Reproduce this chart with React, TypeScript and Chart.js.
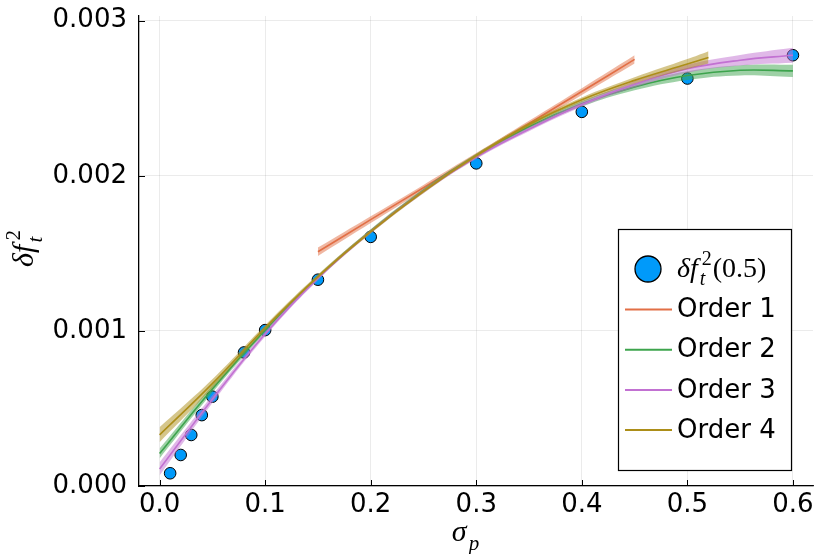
import { useEffect, useRef } from 'react'
import { Chart, registerables } from 'chart.js'

Chart.register(...registerables)

// measured points
const pointX = [0.01, 0.02, 0.03, 0.04, 0.05, 0.08, 0.1, 0.15, 0.2, 0.3, 0.4, 0.5, 0.6]
const pointY = [0.000082, 0.0002, 0.000329, 0.000457, 0.000576, 0.000861, 0.001005, 0.00133, 0.001606, 0.00208, 0.002412, 0.002627, 0.002777]

// fitted curves (centre value and half-width of ribbon)
const fitX = [0, 0.05, 0.1, 0.15, 0.2, 0.25, 0.3, 0.35, 0.4, 0.45, 0.5, 0.55, 0.6]

const order1X = [0.15, 0.2, 0.25, 0.3, 0.35, 0.4, 0.45]
const order1Y = [0.00151, 0.001717, 0.001923, 0.00213, 0.002337, 0.002543, 0.00275]
const order1Err = [0.000027, 0.000022, 0.000018, 0.000016, 0.000018, 0.000022, 0.000027]

const order2Y = [0.000209, 0.000626, 0.001005, 0.001346, 0.001645, 0.001906, 0.00213, 0.002316, 0.002464, 0.002573, 0.002646, 0.00268, 0.002676]
const order2Err = [0.000032, 0.000024, 0.000017, 0.000013, 0.000011, 0.000011, 0.000012, 0.000013, 0.000018, 0.000022, 0.000028, 0.000033, 0.00004]

const order3Y = [0.00011, 0.00056, 0.00098, 0.00134, 0.00164, 0.0019, 0.00212, 0.0023, 0.00246, 0.00259, 0.00269, 0.002745, 0.002777]
const order3Err = [0.000042, 0.000025, 0.000016, 0.000013, 0.000012, 0.000012, 0.000012, 0.000013, 0.000015, 0.00002, 0.000026, 0.000034, 0.000048]

const order4X = [0, 0.05, 0.1, 0.15, 0.2, 0.25, 0.3, 0.35, 0.4, 0.45, 0.5, 0.52]
const order4Y = [0.00033, 0.00066, 0.00102, 0.00135, 0.00164, 0.0019, 0.00213, 0.00233, 0.00249, 0.002615, 0.00272, 0.002763]
const order4Err = [0.000048, 0.000028, 0.000016, 0.000013, 0.000012, 0.000012, 0.000012, 0.000013, 0.000015, 0.00002, 0.000032, 0.00004]

const xTicks = [0, 0.1, 0.2, 0.3, 0.4, 0.5, 0.6]
const yTicks = [0, 0.001, 0.002, 0.003]
const legendLabels = ['Order 1', 'Order 2', 'Order 3', 'Order 4']

const lineColors = ['#E26F46', '#3DA44D', '#C271D2', '#AC8E18']
const bandColors = ['rgba(226,111,70,0.5)', 'rgba(61,164,77,0.5)', 'rgba(194,113,210,0.5)', 'rgba(172,142,24,0.5)']
const pointColor = '#009AFA'

const SANS = '"DejaVu Sans", sans-serif'
const SERIF = '"Liberation Serif", "DejaVu Serif", serif'

// draws  main_sub^sup tail  starting at (x, y) baseline; returns width
function mathText(ctx: CanvasRenderingContext2D, x: number, y: number, main: string, sub: string, sup: string, tail: string, size: number, draw = true) {
  const small = Math.round(size * 0.7)
  ctx.textAlign = 'left'
  ctx.textBaseline = 'alphabetic'
  ctx.font = `italic ${size}px ${SERIF}`
  const wMain = ctx.measureText(main).width
  if (draw) ctx.fillText(main, x, y)
  let w = wMain + 2
  let wScript = 0
  if (sup) {
    ctx.font = `${small}px ${SERIF}`
    if (draw) ctx.fillText(sup, x + w + 2, y - size * 0.44)
    wScript = Math.max(wScript, ctx.measureText(sup).width + 2)
  }
  if (sub) {
    ctx.font = `italic ${small}px ${SERIF}`
    if (draw) ctx.fillText(sub, x + w, y + size * 0.3)
    wScript = Math.max(wScript, ctx.measureText(sub).width)
  }
  w += wScript + 1
  if (tail) {
    ctx.font = `${size}px ${SERIF}`
    if (draw) ctx.fillText(tail, x + w, y)
    w += ctx.measureText(tail).width
  }
  return w
}

const decorPlugin = {
  id: 'decor',
  afterDatasetsDraw(chart: any) {
    const ctx = chart.ctx as CanvasRenderingContext2D
    const area = chart.chartArea
    const xs = chart.scales.x
    const ys = chart.scales.y
    ctx.save()
    // inward ticks
    ctx.strokeStyle = '#000'
    ctx.lineWidth = 1
    ctx.beginPath()
    xTicks.forEach(v => {
      const px = Math.round(xs.getPixelForValue(v)) + 0.5
      ctx.moveTo(px, area.bottom)
      ctx.lineTo(px, area.bottom - 6)
    })
    yTicks.forEach(v => {
      const py = Math.round(ys.getPixelForValue(v)) + 0.5
      ctx.moveTo(area.left, py)
      ctx.lineTo(area.left + 6, py)
    })
    ctx.stroke()

    // legend
    const bx = 618.5, by = 229.5, bw = 173, bh = 241
    ctx.fillStyle = '#fff'
    ctx.fillRect(bx, by, bw, bh)
    ctx.strokeStyle = '#000'
    ctx.lineWidth = 1.2
    ctx.strokeRect(bx, by, bw, bh)

    ctx.beginPath()
    ctx.arc(648, 269, 13, 0, Math.PI * 2)
    ctx.fillStyle = pointColor
    ctx.fill()
    ctx.lineWidth = 1.3
    ctx.stroke()
    ctx.fillStyle = '#000'
    mathText(ctx, 677, 277, 'δf', 't', '2', '(0.5)', 28)

    legendLabels.forEach((label, i) => {
      const cy = 309.5 + i * 40.2
      ctx.strokeStyle = lineColors[i]
      ctx.lineWidth = 2
      ctx.beginPath()
      ctx.moveTo(625, cy)
      ctx.lineTo(672, cy)
      ctx.stroke()
      ctx.fillStyle = '#000'
      ctx.font = `26px ${SANS}`
      ctx.textAlign = 'left'
      ctx.textBaseline = 'middle'
      ctx.fillText(label, 677, cy + 1)
    })

    // axis titles
    ctx.fillStyle = '#000'
    const wx = mathText(ctx, 0, 0, 'σ', 'p', '', '', 30, false)
    mathText(ctx, 466 - wx / 2, 541, 'σ', 'p', '', '', 30)

    ctx.translate(33, 248)
    ctx.rotate(-Math.PI / 2)
    const wy = mathText(ctx, 0, 0, 'δf', 't', '2', '', 30, false)
    mathText(ctx, -wy / 2, 0, 'δf', 't', '2', '', 30)
    ctx.restore()
  },
}

export default function App() {
  const canvasRef = useRef<HTMLCanvasElement>(null)
  const chartRef = useRef<Chart | null>(null)

  useEffect(() => {
    document.body.style.margin = '0'
    if (!canvasRef.current) return
    if (chartRef.current) chartRef.current.destroy()

    const fits = [
      { x: order1X, y: order1Y, err: order1Err },
      { x: fitX, y: order2Y, err: order2Err },
      { x: fitX, y: order3Y, err: order3Err },
      { x: order4X, y: order4Y, err: order4Err },
    ]

    const datasets: any[] = [
      {
        label: 'δf_t^2(0.5)',
        data: pointX.map((x, i) => ({ x, y: pointY[i] })),
        showLine: false,
        pointRadius: 5.8,
        pointBackgroundColor: pointColor,
        pointBorderColor: '#000',
        pointBorderWidth: 1,
        order: 100,
      },
    ]

    fits.forEach((f, i) => {
      const base = (4 - i) * 10
      const lowerIndex = datasets.length
      datasets.push({
        label: legendLabels[i] + ' lower',
        data: f.x.map((x, j) => ({ x, y: f.y[j] - f.err[j] })),
        borderColor: 'transparent',
        borderWidth: 0,
        pointRadius: 0,
        fill: false,
        tension: 0.4,
        order: base + 2,
      })
      datasets.push({
        label: legendLabels[i] + ' upper',
        data: f.x.map((x, j) => ({ x, y: f.y[j] + f.err[j] })),
        borderColor: 'transparent',
        borderWidth: 0,
        pointRadius: 0,
        backgroundColor: bandColors[i],
        fill: lowerIndex,
        tension: 0.4,
        order: base + 1,
      })
      datasets.push({
        label: legendLabels[i],
        data: f.x.map((x, j) => ({ x, y: f.y[j] })),
        borderColor: lineColors[i],
        borderWidth: 1.6,
        pointRadius: 0,
        fill: false,
        tension: 0.4,
        order: base,
      })
    })

    chartRef.current = new Chart(canvasRef.current, {
      type: 'line',
      data: { datasets },
      options: {
        animation: false,
        responsive: false,
        devicePixelRatio: 1,
        layout: { padding: { top: 16, right: 17, left: 0, bottom: 0 } },
        plugins: {
          legend: { display: false },
          tooltip: { enabled: false },
        },
        scales: {
          x: {
            type: 'linear',
            min: -0.0195,
            max: 0.619,
            afterBuildTicks: (s: any) => { s.ticks = xTicks.map(v => ({ value: v })) },
            afterFit: (s: any) => { s.height = 68; s.paddingLeft = 0; s.paddingRight = 0 },
            ticks: {
              callback: (v: any) => Number(v).toFixed(1),
              font: { family: SANS, size: 26 },
              color: '#000',
              padding: 4,
              maxRotation: 0,
              autoSkip: false,
            },
            grid: { color: 'rgba(0,0,0,0.1)', lineWidth: 0.8, drawTicks: false },
            border: { display: true, color: '#000', width: 1.3 },
          },
          y: {
            type: 'linear',
            min: 0,
            max: 0.00303,
            afterBuildTicks: (s: any) => { s.ticks = yTicks.map(v => ({ value: v })) },
            afterFit: (s: any) => { s.width = 139; s.paddingTop = 0; s.paddingBottom = 0 },
            ticks: {
              callback: (v: any) => Number(v).toFixed(3),
              font: { family: SANS, size: 26 },
              color: '#000',
              padding: 12,
              autoSkip: false,
            },
            grid: { color: 'rgba(0,0,0,0.1)', lineWidth: 0.8, drawTicks: false },
            border: { display: true, color: '#000', width: 1.3 },
          },
        },
      },
      plugins: [decorPlugin],
    })

    return () => {
      chartRef.current?.destroy()
      chartRef.current = null
    }
  }, [])

  return (
    <div style={{ width: 830, height: 554, background: '#fff' }}>
      <canvas ref={canvasRef} width={830} height={554} />
    </div>
  )
}
